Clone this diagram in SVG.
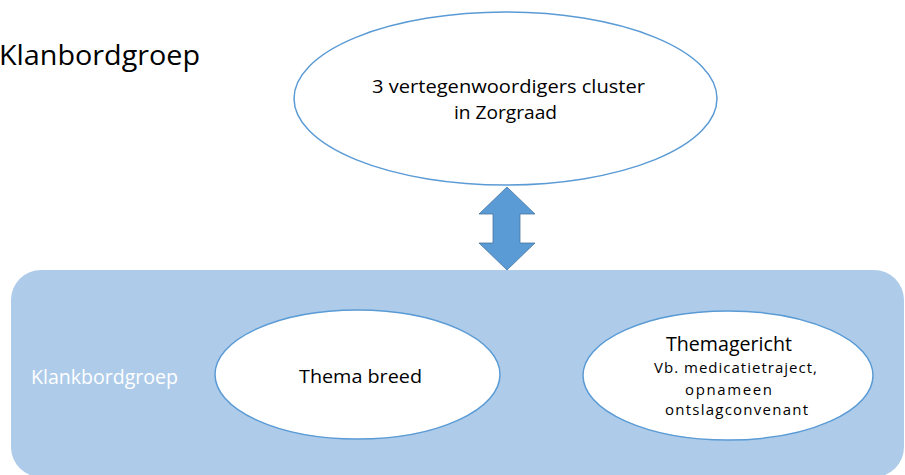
<svg xmlns="http://www.w3.org/2000/svg" width="905" height="475" viewBox="0 0 905 475">
<style>
.ell{fill:#FFFFFF;stroke:#5B9BD5;stroke-width:1.5}
.t{font-family:"Open Sans","Liberation Sans",sans-serif;fill:#000000}
.w{font-family:"Open Sans","Liberation Sans",sans-serif;fill:#FFFFFF}
.arrow{fill:#5B9BD5;stroke:#41719C;stroke-width:0.75}
</style>
<rect x="0" y="0" width="905" height="475" fill="#FFFFFF"/>
<g id="title">
<text class="t" x="-1" y="65" font-size="28" textLength="201" lengthAdjust="spacingAndGlyphs">Klanbordgroep</text>
</g>
<g id="klankbordgroep">
<rect x="11" y="270" width="893" height="207" rx="30" ry="30" fill="#AECCEA"/>
<text class="w" x="31" y="384" font-size="19.5" textLength="147" lengthAdjust="spacingAndGlyphs">Klankbordgroep</text>
</g>
<g id="zorgraad">
<ellipse class="ell" cx="505.5" cy="98.5" rx="211.5" ry="86.5"/>
<text class="t" x="372" y="93" font-size="18" textLength="273" lengthAdjust="spacingAndGlyphs">3 vertegenwoordigers cluster</text>
<text class="t" x="454" y="119" font-size="18" textLength="103" lengthAdjust="spacingAndGlyphs">in Zorgraad</text>
</g>
<g id="thema-breed">
<ellipse class="ell" cx="357.5" cy="374.5" rx="142.5" ry="64.5"/>
<text class="t" x="299" y="383" font-size="19" textLength="123" lengthAdjust="spacingAndGlyphs">Thema breed</text>
</g>
<g id="themagericht">
<ellipse class="ell" cx="728" cy="375.5" rx="145" ry="64.5"/>
<text class="t" x="666" y="351" font-size="19.5" textLength="126" lengthAdjust="spacingAndGlyphs">Themagericht</text>
<text class="t" x="654" y="373" font-size="15" textLength="163" lengthAdjust="spacing">Vb. medicatietraject,</text>
<text class="t" x="685" y="395" font-size="15" textLength="87" lengthAdjust="spacing">opnameen</text>
<text class="t" x="665" y="415" font-size="15" textLength="143" lengthAdjust="spacing">ontslagconvenant</text>
</g>
<g id="connectors">
<path class="arrow" d="M507,187 L535,214 L520,214 L520,243 L535,243 L507,270 L479,243 L493,243 L493,214 L479,214 Z"/>
</g>
</svg>
